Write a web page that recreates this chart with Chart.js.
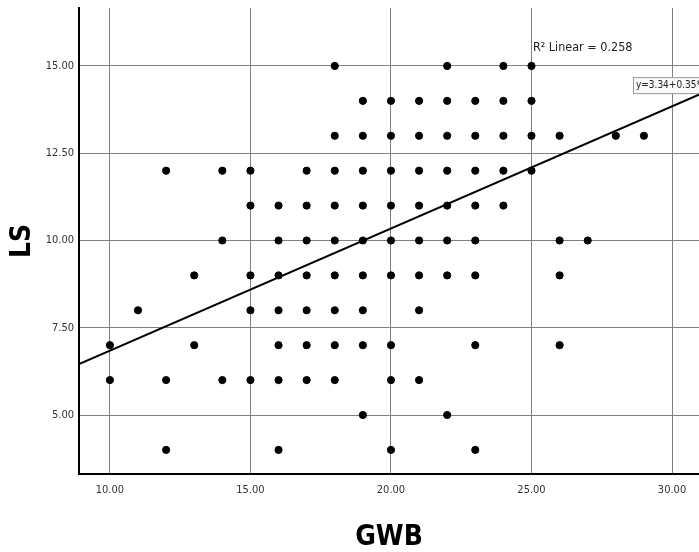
<!DOCTYPE html>
<html>
<head>
<meta charset="utf-8">
<script src="https://cdn.jsdelivr.net/npm/chart.js@4.4.1/dist/chart.umd.min.js"></script>
<style>
  html, body { margin: 0; padding: 0; background: #fff; }
  #wrap { width: 699px; height: 552px; }
</style>
</head>
<body>
<div id="wrap"><canvas id="scatterChart"></canvas></div>
<script>
// LS value of each row of dots, and the GWB values found on that row
const lsLevels = [15, 14, 13, 12, 11, 10, 9, 8, 7, 6, 5, 4];
const gwbAtLevel = [
  [18, 22, 24, 25],
  [19, 20, 21, 22, 23, 24, 25],
  [18, 19, 20, 21, 22, 23, 24, 25, 26, 28, 29],
  [12, 14, 15, 17, 18, 19, 20, 21, 22, 23, 24, 25],
  [15, 16, 17, 18, 19, 20, 21, 22, 23, 24],
  [14, 16, 17, 18, 19, 20, 21, 22, 23, 26, 27],
  [13, 15, 16, 17, 18, 19, 20, 21, 22, 23, 26],
  [11, 15, 16, 17, 18, 19, 21],
  [10, 13, 16, 17, 18, 19, 20, 23, 26],
  [10, 12, 14, 15, 16, 17, 18, 20, 21],
  [19, 22],
  [12, 16, 20, 23],
];
const xTicks = [10, 15, 20, 25, 30];
const yTicks = [5, 7.5, 10, 12.5, 15];
// ends of the fit line
const fitLine = [{ x: 8.9, y: 6.46 }, { x: 31, y: 14.19 }];
const fitLabel = 'y=3.34+0.35*x';
const r2Label = 'R² Linear = 0.258';

const FONT = '"Liberation Sans Narrow", "DejaVu Sans Condensed", "Liberation Sans", sans-serif';

const points = [];
lsLevels.forEach((ls, i) => {
  gwbAtLevel[i].forEach(gwb => points.push({ x: gwb, y: ls }));
});

const fitLabels = {
  id: 'fitLabels',
  afterDatasetsDraw(chart) {
    const { ctx, scales: { x, y } } = chart;
    ctx.save();
    ctx.fillStyle = '#222';
    ctx.textBaseline = 'middle';
    ctx.textAlign = 'left';
    ctx.font = '12.5px ' + FONT;
    ctx.fillText(r2Label, x.getPixelForValue(25.05), y.getPixelForValue(15.52));

    ctx.font = '10px ' + FONT;
    const bx = x.getPixelForValue(28.61);
    const by = y.getPixelForValue(14.68);
    const w = ctx.measureText(fitLabel).width + 6;
    ctx.fillStyle = '#fafafa';
    ctx.fillRect(bx, by, w, 16);
    ctx.strokeStyle = '#999';
    ctx.lineWidth = 1;
    ctx.strokeRect(bx + 0.5, by + 0.5, w, 16);
    ctx.fillStyle = '#222';
    ctx.fillText(fitLabel, bx + 3, by + 8.5);
    ctx.restore();
  }
};

const scatterChart = document.getElementById('scatterChart');
new Chart(scatterChart, {
  type: 'scatter',
  data: {
    datasets: [
      {
        label: 'LS',
        data: points,
        backgroundColor: '#000',
        borderColor: '#000',
        pointRadius: 3.6,
        pointHoverRadius: 3.6,
      },
      {
        type: 'line',
        label: 'Fit',
        data: fitLine,
        borderColor: '#000',
        borderWidth: 2,
        pointRadius: 0,
        fill: false,
      },
    ],
  },
  options: {
    responsive: true,
    maintainAspectRatio: false,
    animation: false,
    layout: { autoPadding: false, padding: { top: 8, right: 0, left: 0, bottom: 0 } },
    plugins: {
      legend: { display: false },
      tooltip: { enabled: false },
    },
    scales: {
      x: {
        type: 'linear',
        min: 8.9,
        max: 30.96,
        afterBuildTicks: scale => { scale.ticks = xTicks.map(v => ({ value: v })); },
        afterFit: scale => {
          scale.height = 78;
          scale.paddingLeft = 0;
          scale.paddingRight = 0;
        },
        grid: { color: '#808080', lineWidth: 1, drawTicks: false },
        border: { display: true, color: '#000', width: 2 },
        ticks: {
          padding: 10,
          color: '#333',
          font: { family: FONT, size: 11 },
          callback: v => v.toFixed(2),
        },
        title: {
          display: true,
          text: 'GWB',
          color: '#000',
          font: { family: FONT, size: 28, weight: 'bold', lineHeight: 1 },
          padding: { top: 0, bottom: 0 },
        },
      },
      y: {
        type: 'linear',
        min: 3.31,
        max: 16.66,
        afterBuildTicks: scale => { scale.ticks = yTicks.map(v => ({ value: v })); },
        afterFit: scale => {
          scale.width = 79;
          scale.paddingTop = 0;
          scale.paddingBottom = 0;
        },
        grid: { color: '#808080', lineWidth: 1, drawTicks: false },
        border: { display: true, color: '#000', width: 2 },
        ticks: {
          padding: 5,
          color: '#333',
          font: { family: FONT, size: 11 },
          callback: v => v.toFixed(2),
        },
        title: {
          display: true,
          text: 'LS',
          color: '#000',
          font: { family: FONT, size: 28, weight: 'bold', lineHeight: 1 },
          padding: { top: 9, bottom: 0 },
        },
      },
    },
  },
  plugins: [fitLabels],
});
</script>
</body>
</html>
